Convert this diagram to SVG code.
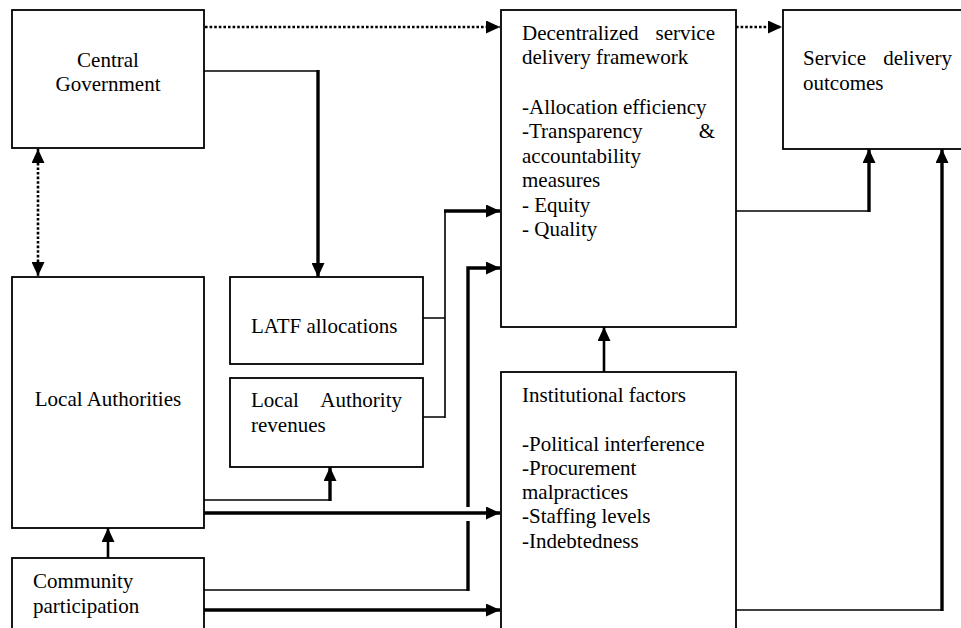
<svg xmlns="http://www.w3.org/2000/svg" width="961" height="628" viewBox="0 0 961 628">
<style>
.box{fill:#fff;stroke:#000;stroke-width:1.8}
text{font-size:21px;fill:#000}
.c{fill:none;stroke:#000}
.thin{stroke-width:1.6}
.thick{stroke-width:3.4}
.med{stroke-width:2.6}
.dot{stroke-width:2.6;stroke-dasharray:2.6 2}
</style>
<defs>
<marker id="ah" viewBox="0 0 14 13" refX="14" refY="6.5" markerWidth="14" markerHeight="13" markerUnits="userSpaceOnUse" orient="auto-start-reverse">
<path d="M0,0 L14,6.5 L0,13 z" fill="#000"/>
</marker>
</defs>
<rect width="961" height="628" fill="#fff"/>
<g font-family="Liberation Serif, DejaVu Serif, Times New Roman, serif">
<g id="central-government">
<rect class="box" x="12" y="10" width="192" height="138"/>
<text x="108" y="67" text-anchor="middle">Central</text>
<text x="108" y="91" text-anchor="middle">Government</text>
</g>
<g id="local-authorities">
<rect class="box" x="12" y="277" width="192" height="251"/>
<text x="108" y="406" text-anchor="middle">Local Authorities</text>
</g>
<g id="community-participation">
<rect class="box" x="12" y="558" width="192" height="90"/>
<text x="33" y="588">Community</text>
<text x="33" y="613">participation</text>
</g>
<g id="latf-allocations">
<rect class="box" x="230" y="277" width="193" height="87"/>
<text x="251" y="333">LATF allocations</text>
</g>
<g id="local-authority-revenues">
<rect class="box" x="230" y="378" width="193" height="89"/>
<text x="251" y="407">Local</text>
<text x="402" y="407" text-anchor="end">Authority</text>
<text x="251" y="432">revenues</text>
</g>
<g id="decentralized-framework">
<rect class="box" x="501" y="10" width="235" height="317"/>
<text x="522" y="40">Decentralized</text>
<text x="715" y="40" text-anchor="end">service</text>
<text x="522" y="64">delivery framework</text>
<text x="522" y="114">-Allocation efficiency</text>
<text x="522" y="138">-Transparency</text>
<text x="715" y="138" text-anchor="end">&amp;</text>
<text x="522" y="163">accountability</text>
<text x="522" y="187">measures</text>
<text x="522" y="212">- Equity</text>
<text x="522" y="236">- Quality</text>
</g>
<g id="institutional-factors">
<rect class="box" x="501" y="372" width="235" height="276"/>
<text x="522" y="402">Institutional factors</text>
<text x="522" y="451">-Political interference</text>
<text x="522" y="475">-Procurement</text>
<text x="522" y="499">malpractices</text>
<text x="522" y="523">-Staffing levels</text>
<text x="522" y="548">-Indebtedness</text>
</g>
<g id="service-delivery-outcomes">
<rect class="box" x="783" y="10" width="200" height="139"/>
<text x="803" y="65">Service</text>
<text x="952" y="65" text-anchor="end">delivery</text>
<text x="803" y="90">outcomes</text>
</g>
</g>
<g id="connectors">
<path class="c dot" d="M205,27 H500" marker-end="url(#ah)"/>
<path class="c dot" d="M736,27 H782" marker-end="url(#ah)"/>
<path class="c dot" d="M38,149 V276" marker-start="url(#ah)" marker-end="url(#ah)"/>
<path class="c thin" d="M204,71 H318"/>
<path class="c thick" d="M318,70 V277" marker-end="url(#ah)"/>
<path class="c med" d="M108,558 V528" marker-end="url(#ah)"/>
<path class="c thin" d="M204,500 H330"/>
<path class="c thick" d="M330,501 V467" marker-end="url(#ah)"/>
<path class="c thick" d="M204,513 H500" marker-end="url(#ah)"/>
<path class="c thin" d="M204,590 H468"/>
<path class="c thick" d="M468,591 V521"/>
<path class="c thick" d="M468,507 V268 H500" marker-end="url(#ah)"/>
<path class="c thick" d="M204,610 H500" marker-end="url(#ah)"/>
<path class="c thin" d="M423,318 H445 M423,417 H445 M445,418 V211"/>
<path class="c thick" d="M444,211 H500" marker-end="url(#ah)"/>
<path class="c med" d="M604,372 V327" marker-end="url(#ah)"/>
<path class="c thin" d="M736,211 H869"/>
<path class="c thick" d="M869,212 V149" marker-end="url(#ah)"/>
<path class="c thin" d="M736,610 H942"/>
<path class="c thick" d="M942,611 V149" marker-end="url(#ah)"/>
</g>
</svg>
